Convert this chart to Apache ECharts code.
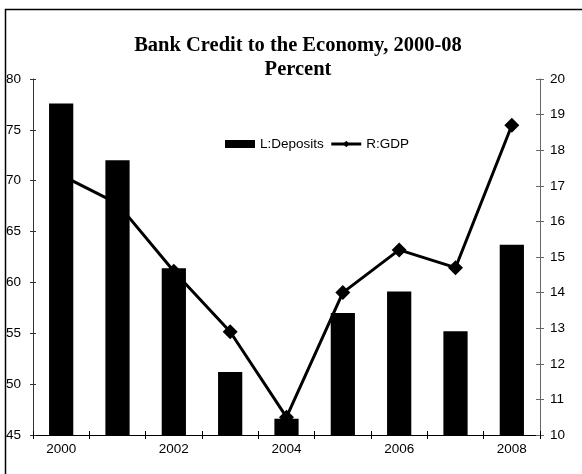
<!DOCTYPE html>
<html>
<head>
<meta charset="utf-8">
<script src="https://cdn.jsdelivr.net/npm/echarts@6/dist/echarts.min.js"></script>
<style>html,body{margin:0;padding:0;background:#fff;}#c{width:582px;height:474px;}</style>
</head>
<body>
<div id="c"></div>
<script>
var years = ['2000','2001','2002','2003','2004','2005','2006','2007','2008'];
var deposits = [77.6, 72.0, 61.4, 51.2, 46.6, 57.0, 59.1, 55.2, 63.7];
var gdp = [17.3, 16.5, 14.6, 12.9, 10.5, 14.0, 15.2, 14.7, 18.7];
var leftTicks = {min: 45, max: 80, interval: 5};
var rightTicks = {min: 10, max: 20, interval: 1};

var chart = echarts.init(document.getElementById('c'), null, {renderer: 'canvas'});
var font = 'Liberation Sans, Arial, sans-serif';
var option = {
  animation: false,
  backgroundColor: '#fff',
  title: {
    text: 'Bank Credit to the Economy, 2000-08\nPercent',
    left: 298, top: 34, textAlign: 'center', padding: 0,
    textStyle: {fontFamily: 'Liberation Serif, Times New Roman, serif', fontWeight: 'bold', fontSize: 20.5, lineHeight: 24, color: '#000'}
  },
  legend: {
    left: 225, top: 137, padding: 0, itemWidth: 30, itemHeight: 8, itemGap: 6,
    lineStyle: {width: 3},
    textStyle: {fontFamily: font, fontSize: 13.5, color: '#000'},
    data: [
      {name: 'L:Deposits', icon: 'rect', itemWidth: 28},
      {name: 'R:GDP'}
    ]
  },
  grid: {left: 33, right: 42, top: 79, bottom: 39, containLabel: false},
  xAxis: [
    {type: 'category', data: years, position: 'bottom',
     axisLine: {lineStyle: {color: '#000', width: 1}},
     axisTick: {show: true, inside: false, length: 4, interval: 0, lineStyle: {color: '#000'}},
     axisLabel: {interval: 1, margin: 7, fontFamily: font, fontSize: 13.5, color: '#000'},
     splitLine: {show: false}},
    {type: 'category', data: years, position: 'bottom', gridIndex: 0,
     axisLine: {show: false},
     axisTick: {show: true, inside: true, length: 4, interval: 0, lineStyle: {color: '#000'}},
     axisLabel: {show: false}, splitLine: {show: false}}
  ],
  yAxis: [
    {type: 'value', position: 'left', min: leftTicks.min, max: leftTicks.max, interval: leftTicks.interval,
     axisLine: {show: true, lineStyle: {color: '#333'}},
     axisTick: {show: true, inside: false, length: 3, lineStyle: {color: '#333'}},
     axisLabel: {margin: 12, fontFamily: font, fontSize: 13.5, color: '#000'},
     splitLine: {show: false}},
    {type: 'value', position: 'right', min: rightTicks.min, max: rightTicks.max, interval: rightTicks.interval,
     axisLine: {show: true, lineStyle: {color: '#666'}},
     axisTick: {show: true, inside: false, length: 4, lineStyle: {color: '#666'}},
     axisLabel: {margin: 10, fontFamily: font, fontSize: 13.5, color: '#000'},
     splitLine: {show: false}},
    {type: 'value', position: 'left', min: leftTicks.min, max: leftTicks.max, interval: leftTicks.interval,
     axisLine: {show: false},
     axisTick: {show: true, inside: true, length: 3, lineStyle: {color: '#333'}},
     axisLabel: {show: false}, splitLine: {show: false}},
    {type: 'value', position: 'right', min: rightTicks.min, max: rightTicks.max, interval: rightTicks.interval,
     axisLine: {show: false},
     axisTick: {show: true, inside: true, length: 4, lineStyle: {color: '#666'}},
     axisLabel: {show: false}, splitLine: {show: false}}
  ],
  series: [
    {name: 'L:Deposits', type: 'bar', xAxisIndex: 0, yAxisIndex: 0, data: deposits,
     barWidth: '43%', itemStyle: {color: '#000'}, z: 3},
    {name: 'R:GDP', type: 'line', xAxisIndex: 0, yAxisIndex: 1, data: gdp,
     symbol: 'diamond', symbolSize: 15, showSymbol: true,
     lineStyle: {color: '#000', width: 3}, itemStyle: {color: '#000'}, z: 2}
  ],
  graphic: [
    {type: 'rect', shape: {x: 5.5, y: 9.5, width: 600, height: 500}, style: {fill: 'none', stroke: '#000', lineWidth: 1.5}, silent: true, z: 100}
  ]
};
chart.setOption(option);
</script>
</body>
</html>
